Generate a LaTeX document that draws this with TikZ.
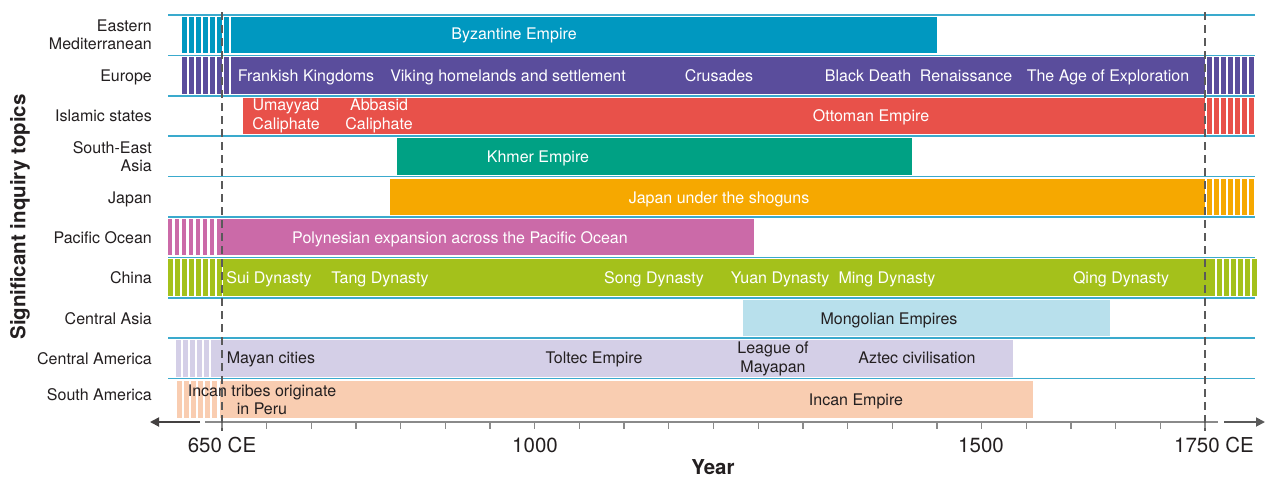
\documentclass[tikz,border=0pt]{standalone}
\usepackage{fontspec}
\setmainfont{TeX Gyre Heros}
\usetikzlibrary{arrows.meta}
\definecolor{sepblue}{HTML}{3AAACD}
\definecolor{cByz}{HTML}{0098C0}
\definecolor{cEur}{HTML}{5A4D9C}
\definecolor{cIsl}{HTML}{E8514A}
\definecolor{cKhm}{HTML}{00A184}
\definecolor{cJap}{HTML}{F6A800}
\definecolor{cPac}{HTML}{CB6AA8}
\definecolor{cChi}{HTML}{A4C11B}
\definecolor{cCas}{HTML}{B8E0EC}
\definecolor{cCam}{HTML}{D4CFE7}
\definecolor{cSam}{HTML}{F9CDB1}
\definecolor{txtdark}{HTML}{231F20}
\definecolor{axisgray}{HTML}{8A8A8A}
\definecolor{dashgray}{HTML}{5A5A5A}
\newcommand\tlbar[5]{\fill[#5] (#3,#1) rectangle (#4,#2);}
\newcommand\tlstripes[5]{\foreach \i in {1,...,#4}{\fill[#5] ({#3+7*(\i-1)},#1) rectangle ({#3+7*(\i-1)+4.8},#2);}}
\begin{document}
\begin{tikzpicture}[x=1pt,y=-1pt,
  basefont/.style={font=\fontsize{16}{18.5}\selectfont,inner sep=0pt},
  one/.style={text height=11.6pt,text depth=0pt},
  rowlab/.style={basefont,anchor=east,align=right,text=txtdark},
  wlab/.style={basefont,text=white,align=center},
  dlab/.style={basefont,text=txtdark,align=center},
  axlab/.style={text=txtdark,font=\fontsize{20.5}{22}\selectfont,inner sep=0pt,text height=14.8pt,text depth=0pt},
  sepline/.style={draw=sepblue,line width=1.6pt},
  dashline/.style={draw=dashgray,line width=1.8pt,dash pattern=on 8pt off 5pt},
  tickline/.style={draw=axisgray,line width=1.3pt},
]
\useasboundingbox (0,0) rectangle (1265,477);
% separator lines
\foreach \yy in {15,55.4,95.8,136.2,176.6,217,257.4,297.8,338.2,378.6}{
  \draw[sepline] (168,\yy) -- (1255,\yy);
}
% Eastern Mediterranean
\tlstripes{17}{53.4}{182}{7}{cByz}
\tlbar{17}{53.4}{230.5}{937}{cByz}
% Europe
\tlstripes{57.4}{93.8}{182}{7}{cEur}
\tlbar{57.4}{93.8}{230.5}{1205}{cEur}
\tlstripes{57.4}{93.8}{1207}{7}{cEur}
% Islamic states
\tlbar{97.8}{134.2}{243}{1205}{cIsl}
\tlstripes{97.8}{134.2}{1207}{7}{cIsl}
% South-East Asia
\tlbar{138.2}{174.6}{397}{912}{cKhm}
% Japan
\tlbar{178.6}{215}{390}{1205}{cJap}
\tlstripes{178.6}{215}{1207}{7}{cJap}
% Pacific
\tlstripes{219}{255.4}{167.5}{7}{cPac}
\tlbar{219}{255.4}{216.5}{754}{cPac}
% China
\tlstripes{259.4}{295.8}{168}{8}{cChi}
\tlbar{259.4}{295.8}{223}{1215}{cChi}
\tlstripes{259.4}{295.8}{1217}{6}{cChi}
% Central Asia
\tlbar{299.8}{336.2}{743}{1110}{cCas}
% Central America
\tlstripes{340.2}{376.6}{176}{6}{cCam}
\tlbar{340.2}{376.6}{215}{1013}{cCam}
% South America
\tlstripes{380.6}{418}{177}{6}{cSam}
\tlbar{380.6}{418}{220}{1033}{cSam}

% row labels
\node[rowlab] (lEM) at (152,35) {Eastern\\Mediterranean};
\node[rowlab,one] (lEU) at (152,75.6) {Europe};
\node[rowlab,one] (lIS) at (152,115.5) {Islamic states};
\node[rowlab] (lSE) at (152,156.4) {South-East\\Asia};
\node[rowlab,one] (lJP) at (152,198) {Japan};
\node[rowlab,one] (lPO) at (152,238) {Pacific Ocean};
\node[rowlab,one] (lCH) at (152,278) {China};
\node[rowlab,one] (lCA) at (152,318.5) {Central Asia};
\node[rowlab,one] (lCM) at (152,359) {Central America};
\node[rowlab,one] (lSA) at (152,394.5) {South America};
\node[rotate=90,text=txtdark,font=\fontsize{20.5}{22}\selectfont\bfseries,inner sep=0pt] (ylab) at (20,217) {Significant inquiry topics};

% bar labels
\node[wlab,one] (byz) at (514,34) {Byzantine Empire};
\node[wlab,one] (frk) at (306,75.6) {Frankish Kingdoms};
\node[wlab,one] (vik) at (508,75.6) {Viking homelands and settlement};
\node[wlab,one] (cru) at (719,75.6) {Crusades};
\node[wlab,one] (bld) at (868,75.6) {Black Death};
\node[wlab,one] (ren) at (966,75.6) {Renaissance};
\node[wlab,one] (age) at (1108,75.6) {The Age of Exploration};
\node[wlab] (uma) at (286,116) {Umayyad\\Caliphate};
\node[wlab] (abb) at (379,116) {Abbasid\\Caliphate};
\node[wlab,one] (ott) at (871,115.5) {Ottoman Empire};
\node[wlab,one] (khm) at (538,156.5) {Khmer Empire};
\node[wlab,one] (jap) at (719,198) {Japan under the shoguns};
\node[wlab,one] (pol) at (460,238) {Polynesian expansion across the Pacific Ocean};
\node[wlab,one] (sui) at (269,278) {Sui Dynasty};
\node[wlab,one] (tan) at (380,278) {Tang Dynasty};
\node[wlab,one] (son) at (654,278) {Song Dynasty};
\node[wlab,one] (yua) at (780,278) {Yuan Dynasty};
\node[wlab,one] (min) at (887,278) {Ming Dynasty};
\node[wlab,one] (qin) at (1121,278) {Qing Dynasty};
\node[dlab,one] (mon) at (889,318.5) {Mongolian Empires};
\node[dlab,one] (may) at (271,358) {Mayan cities};
\node[dlab,one] (tol) at (594,358) {Toltec Empire};
\node[dlab] (lea) at (773,359) {League of\\Mayapan};
\node[dlab,one] (azt) at (917,358) {Aztec civilisation};
\node[dlab] (inc) at (262,400) {Incan tribes originate\\in Peru};
\node[dlab,one] (ine) at (856,399.5) {Incan Empire};

% axis
\coordinate (axL) at (205,422);
\coordinate (axR) at (1218,422);
\draw[draw=axisgray,line width=1.5pt] (axL) -- (axR);
\coordinate (laS) at (200,422);
\coordinate (laE) at (150,422);
\coordinate (raS) at (1224,422);
\coordinate (raE) at (1265,422);
\draw[draw=txtdark!85,line width=1.8pt,-{Triangle[length=9pt,width=9pt]}] (laS) -- (laE);
\draw[draw=dashgray,line width=1.8pt,-{Triangle[length=9pt,width=9pt]}] (raS) -- (raE);
\foreach \yr in {650,700,...,1750}{
  \draw[tickline] ({222+(\yr-650)*0.8936},422) -- ({222+(\yr-650)*0.8936},429);
}
% dashed reference lines
\coordinate (d1t) at (222,12);
\coordinate (d1b) at (222,431);
\coordinate (d2t) at (1205,12);
\coordinate (d2b) at (1205,431);
\draw[dashline] (d1t) -- (d1b);
\draw[dashline] (d2t) -- (d2b);

\node[axlab] (t650) at (222,445) {650 CE};
\node[axlab] (t1000) at (535,445) {1000};
\node[axlab] (t1500) at (981,445) {1500};
\node[axlab] (t1750) at (1214,445) {1750 CE};
\node[axlab,font=\fontsize{20.5}{22}\selectfont\bfseries] (year) at (713,467.5) {Year};
\end{tikzpicture}
\end{document}
